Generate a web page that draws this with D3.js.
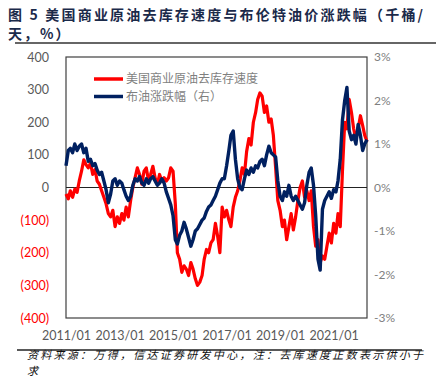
<!DOCTYPE html>
<html><head><meta charset="utf-8">
<script src="https://cdn.jsdelivr.net/npm/d3@7"></script>
<style>
html,body{margin:0;padding:0;background:#fff;}
svg{display:block;}
</style></head>
<body>
<svg id="c" width="436" height="379"></svg>
<script>
const startMonth = "2011-01";
const endMonth = "2022-04";
const drawSpeed = [-20,-35,-10,-30,-5,-15,20,50,85,70,60,75,40,55,20,10,-10,-30,-50,-80,-90,-70,-120,-90,-110,-80,-100,-60,-90,-40,0,30,60,40,10,50,60,20,40,65,30,10,40,20,30,20,30,60,50,-50,-200,-220,-260,-240,-250,-270,-230,-250,-280,-300,-290,-270,-220,-190,-200,-170,-160,-110,-150,-200,-60,-90,-70,-100,-120,-60,-30,-10,20,60,40,110,150,130,200,230,270,290,280,230,250,200,210,160,60,-40,-70,-120,-100,-160,-120,-80,-130,-90,-40,0,20,-30,-10,-40,-10,-120,-180,-160,-230,-210,-220,-180,-140,-170,-110,-140,-80,-120,50,200,180,270,230,180,150,180,220,190,160,140];
const brentChg = [0.5,0.85,0.9,0.8,1.0,0.85,0.95,1.0,0.8,0.9,0.6,0.65,0.5,0.55,0.4,0.3,0.35,0.15,-0.05,-0.35,-0.15,0.15,0.2,0.05,0.15,0.1,-0.05,-0.2,-0.3,-0.2,0.05,0.2,0.15,0.25,0.1,0.05,0.2,0.1,0.2,0.25,0.15,0.05,0.1,0.2,0.1,-0.1,-0.25,-0.4,-0.65,-1.2,-1.3,-1.1,-1.0,-0.8,-0.95,-1.15,-1.35,-1.2,-1.0,-0.95,-0.85,-0.75,-0.7,-0.55,-0.45,-0.4,-0.3,-0.2,-0.05,0.1,0.2,0.2,0.5,0.85,1.2,1.3,0.65,0.2,0.0,-0.05,0.2,0.4,0.3,0.45,0.35,0.5,0.45,0.6,0.65,0.5,0.75,0.95,0.8,0.75,0.7,0.15,-0.2,-0.3,-0.1,-0.2,0.05,-0.2,-0.3,-0.2,-0.3,-0.4,-0.5,-0.35,0.05,0.35,0.45,0.05,-0.65,-1.65,-1.9,-0.5,-0.3,-0.2,-0.1,-0.25,-0.05,-0.1,0.15,0.65,1.55,2.0,2.3,1.3,1.1,1.2,1.0,1.45,1.2,0.85,1.0,1.1];
const leftTicks = [400,300,200,100,0,-100,-200,-300,-400];
const rightTicks = [3,2,1,0,-1,-2,-3];
const xTickLabels = ["2011/01","2013/01","2015/01","2017/01","2019/01","2021/01"];
const seriesNames = ["美国商业原油去库存速度","布油涨跌幅（右）"];
const titleLines = ["图 5  美国商业原油去库存速度与布伦特油价涨跌幅（千桶/","天，%）"];
const sourceLines = ["资料来源：万得，信达证券研发中心，注：去库速度正数表示供小于","求"];

const svg = d3.select("#c");
const M = {l:66, r:367, t:57, b:318};
const parse = d3.timeParse("%Y-%m");
const parseTick = d3.timeParse("%Y/%m");
const t0 = parse(startMonth);
const dates = drawSpeed.map((_,i)=>d3.timeMonth.offset(t0,i));
const x = d3.scaleTime().domain([t0, parse(endMonth)]).range([M.l, M.r]);
const yL = d3.scaleLinear().domain([-400,400]).range([M.b, M.t]);
const yR = d3.scaleLinear().domain([-3,3]).range([M.b, M.t]);

const RED="#ff0000", BLUE="#002060";
const tickFont = "Lato, 'Open Sans', sans-serif";

// title
svg.append("g").selectAll("text").data(titleLines).join("text")
  .attr("x",8).attr("y",(d,i)=>20+i*19)
  .attr("font-family","'Noto Sans CJK SC', sans-serif").attr("font-weight","bold")
  .attr("font-size",14).attr("fill","#1b2a4a")
  .attr("textLength",(d,i)=>i===0?415:null).attr("lengthAdjust","spacing")
  .attr("letter-spacing",(d,i)=>i===1?"2px":null)
  .text(d=>d);
svg.append("line").attr("x1",15).attr("x2",436).attr("y1",43).attr("y2",43).attr("stroke","#333").attr("stroke-width",1.5);

// plot frame
svg.append("rect").attr("x",M.l).attr("y",M.t).attr("width",M.r-M.l).attr("height",M.b-M.t)
  .attr("fill","none").attr("stroke","#404040").attr("stroke-width",1.2);
svg.append("line").attr("x1",M.l).attr("x2",M.r).attr("y1",yL(0)).attr("y2",yL(0)).attr("stroke","#222").attr("stroke-width",1.2);

// left axis
const gL = svg.append("g").attr("transform",`translate(${M.l-14},0)`)
  .call(d3.axisLeft(yL).tickValues(leftTicks).tickSize(0).tickFormat(v=>v<0?`(${-v})`:`${v}`));
gL.select(".domain").remove();
gL.selectAll("text").attr("font-family",tickFont).attr("font-size",12.5)
  .attr("fill",v=>v<0?RED:"#595959");

// right axis
const gR = svg.append("g").attr("transform",`translate(${M.r+4},0)`)
  .call(d3.axisRight(yR).tickValues(rightTicks).tickSize(0).tickFormat(v=>`${v}%`));
gR.select(".domain").remove();
gR.selectAll("text").attr("font-family",tickFont).attr("font-size",12).attr("fill","#7f7f7f");

// bottom axis
const gB = svg.append("g").attr("transform",`translate(0,${M.b+10})`)
  .call(d3.axisBottom(x).tickValues(xTickLabels.map(parseTick)).tickSize(0).tickFormat(d3.timeFormat("%Y/%m")));
gB.select(".domain").remove();
gB.selectAll("text").attr("font-family",tickFont).attr("font-size",12.5).attr("fill","#595959");

// lines
const lineL = d3.line().x((d,i)=>x(dates[i])).y(d=>yL(d));
const lineR = d3.line().x((d,i)=>x(dates[i])).y(d=>yR(d));
svg.append("path").datum(drawSpeed).attr("d",lineL).attr("fill","none").attr("stroke",RED).attr("stroke-width",3.2).attr("stroke-linejoin","round");
svg.append("path").datum(brentChg).attr("d",lineR).attr("fill","none").attr("stroke",BLUE).attr("stroke-width",3.4).attr("stroke-linejoin","round");

// legend
const lg = svg.append("g");
[RED,BLUE].forEach((c,i)=>{
  lg.append("line").attr("x1",94).attr("x2",123).attr("y1",79+i*17.5).attr("y2",79+i*17.5).attr("stroke",c).attr("stroke-width",3.5);
  lg.append("text").attr("x",126).attr("y",79+i*17.5).attr("dy","0.35em")
    .attr("font-family","'Noto Sans CJK SC', sans-serif").attr("font-size",12).attr("fill","#7f7f7f")
    .text(seriesNames[i]);
});

// source
svg.append("line").attr("x1",17).attr("x2",422).attr("y1",350).attr("y2",350).attr("stroke","#222").attr("stroke-width",1.5);
svg.append("g").selectAll("text").data(sourceLines).join("text")
  .attr("x",27).attr("y",(d,i)=>359+i*16)
  .attr("font-family","'Noto Sans CJK SC', sans-serif").attr("font-style","italic")
  .attr("font-size",11).attr("fill","#111")
  .attr("textLength",(d,i)=>i===0?396:null).attr("lengthAdjust","spacing")
  .text(d=>d);
</script>
</body></html>
